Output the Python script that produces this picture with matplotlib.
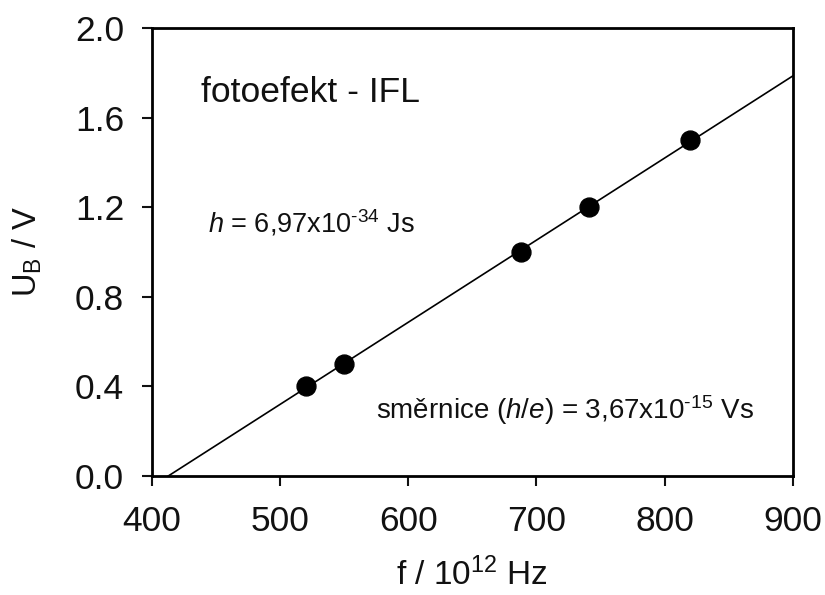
import numpy as np
import matplotlib.pyplot as plt

plt.rcParams['font.family'] = ['Liberation Sans', 'DejaVu Sans']
plt.rcParams['mathtext.fontset'] = 'custom'
plt.rcParams['mathtext.rm'] = 'Liberation Sans'
plt.rcParams['mathtext.it'] = 'Liberation Sans:italic'

# measured points: frequency (10^12 Hz) vs stopping voltage (V)
freq = [520, 550, 688, 741, 820]
voltage = [0.40, 0.50, 1.00, 1.20, 1.50]

x_ticks = [400, 500, 600, 700, 800, 900]
y_ticks = [0.0, 0.4, 0.8, 1.2, 1.6, 2.0]


def main():
    fig = plt.figure(figsize=(8.25, 5.95), dpi=100)
    ax = fig.add_axes([0.184, 0.2, 0.777, 0.753])

    # linear fit through the points
    k, q = np.polyfit(freq, voltage, 1)
    xs = np.array([-q / k, 900])
    ax.plot(xs, k * xs + q, color='black', lw=1.2, zorder=2)
    ax.scatter(freq, voltage, s=185, color='black', zorder=3)

    ax.set_xlim(400, 900)
    ax.set_ylim(0, 2.0)
    ax.set_xticks(x_ticks)
    ax.set_yticks(y_ticks)
    ax.set_yticklabels([f'{v:.1f}' for v in y_ticks])
    ax.tick_params(direction='out', length=7, width=1.5, labelsize=25.5,
                   colors='#111111')
    ax.tick_params(axis='x', pad=14)
    ax.tick_params(axis='y', pad=13)
    for s in ax.spines.values():
        s.set_linewidth(2)

    ax.set_xlabel('f / 10$^{12}$ Hz', fontsize=24, labelpad=14, color='#111111')
    ax.set_ylabel(r'U$_\mathrm{B}$ / V', fontsize=23.5, labelpad=22, color='#111111')

    ax.text(438, 1.67, 'fotoefekt - IFL', fontsize=25.5, color='#111111')
    ax.text(444, 1.087, r'$\it{h}$ = 6,97x10$^{\mathrm{‐34}}$ Js', fontsize=19.5,
            color='#111111')
    ax.text(575, 0.254, r'směrnice ($\it{h/e}$) = 3,67x10$^{\mathrm{‐15}}$ Vs',
            fontsize=20, color='#111111')

    fig.savefig('out.png', dpi=100)


if __name__ == '__main__':
    main()
